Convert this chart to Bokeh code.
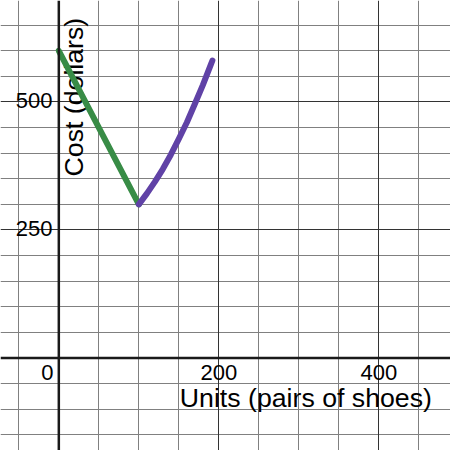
from math import pi
from bokeh.plotting import figure
from bokeh.models import Grid, FixedTicker, Span
from bokeh.core.properties import value
from bokeh.embed import file_html
from bokeh.resources import INLINE

# ---- data ----
green_units = [0, 100]
green_cost = [600, 300]
purple_units = [100, 110, 120, 130, 140, 150, 160, 170, 180, 190, 192]
purple_cost = [300, 321, 344, 369, 397, 428, 460, 496, 533, 573, 581]

x_tick_values = [200, 400]
x_tick_labels = ["200", "400"]
y_tick_values = [250, 500]
y_tick_labels = ["250", "500"]
origin_label = "0"
x_title = "Units (pairs of shoes)"
y_title = "Cost (dollars)"

FONT = value("Liberation Sans")

p = figure(width=450, height=450, output_backend="svg", toolbar_location=None,
           x_range=(-72.9, 489.6), y_range=(-180.7, 698.2),
           x_axis_type=None, y_axis_type=None, min_border=0,
           background_fill_color="white", border_fill_color="white",
           outline_line_color=None)
p.grid.visible = False

minor_x = [v for v in range(-50, 451, 50) if v % 200 != 0]
minor_y = [v for v in range(-150, 651, 50) if v % 250 != 0]
major_x = [200, 400]
major_y = [250, 500]

p.add_layout(Grid(dimension=0, ticker=FixedTicker(ticks=minor_x),
                  grid_line_color="#808080", grid_line_width=1))
p.add_layout(Grid(dimension=1, ticker=FixedTicker(ticks=minor_y),
                  grid_line_color="#808080", grid_line_width=1))
p.add_layout(Grid(dimension=0, ticker=FixedTicker(ticks=major_x),
                  grid_line_color="#333333", grid_line_width=1))
p.add_layout(Grid(dimension=1, ticker=FixedTicker(ticks=major_y),
                  grid_line_color="#333333", grid_line_width=1))

# axis lines through the origin
p.add_layout(Span(location=0, dimension="width", line_color="#1a1a1a", line_width=2.5))
p.add_layout(Span(location=0, dimension="height", line_color="#1a1a1a", line_width=2.5))

# tick labels
p.text(x=x_tick_values, y=[-28.4] * len(x_tick_values), text=x_tick_labels,
       text_align="center", text_baseline="alphabetic",
       text_font=FONT, text_font_size="22px", text_color="black")
p.text(x=[-6.6], y=[-28.4], text=[origin_label],
       text_align="right", text_baseline="alphabetic",
       text_font=FONT, text_font_size="22px", text_color="black")
p.text(x=[-7.9] * len(y_tick_values), y=[v + 3.0 for v in y_tick_values],
       text=y_tick_labels, text_align="right", text_baseline="alphabetic",
       text_font=FONT, text_font_size="22px", text_color="black")

# axis titles
p.text(x=[151.2], y=[-79.1], text=[x_title], text_align="left",
       text_baseline="alphabetic", text_font=FONT, text_font_size="26.7px",
       text_color="black")
p.text(x=[18.5], y=[354.5], text=[y_title], angle=pi / 2, text_align="left",
       text_baseline="alphabetic", text_font=FONT, text_font_size="26.7px",
       text_color="black")

# curves
p.line(green_units, green_cost, line_color="#388c46", line_width=6,
       line_cap="round", line_join="round")
p.line(purple_units, purple_cost, line_color="#6042a6", line_width=6,
       line_cap="round", line_join="round")

open("out.html", "w").write(file_html(p, INLINE))
